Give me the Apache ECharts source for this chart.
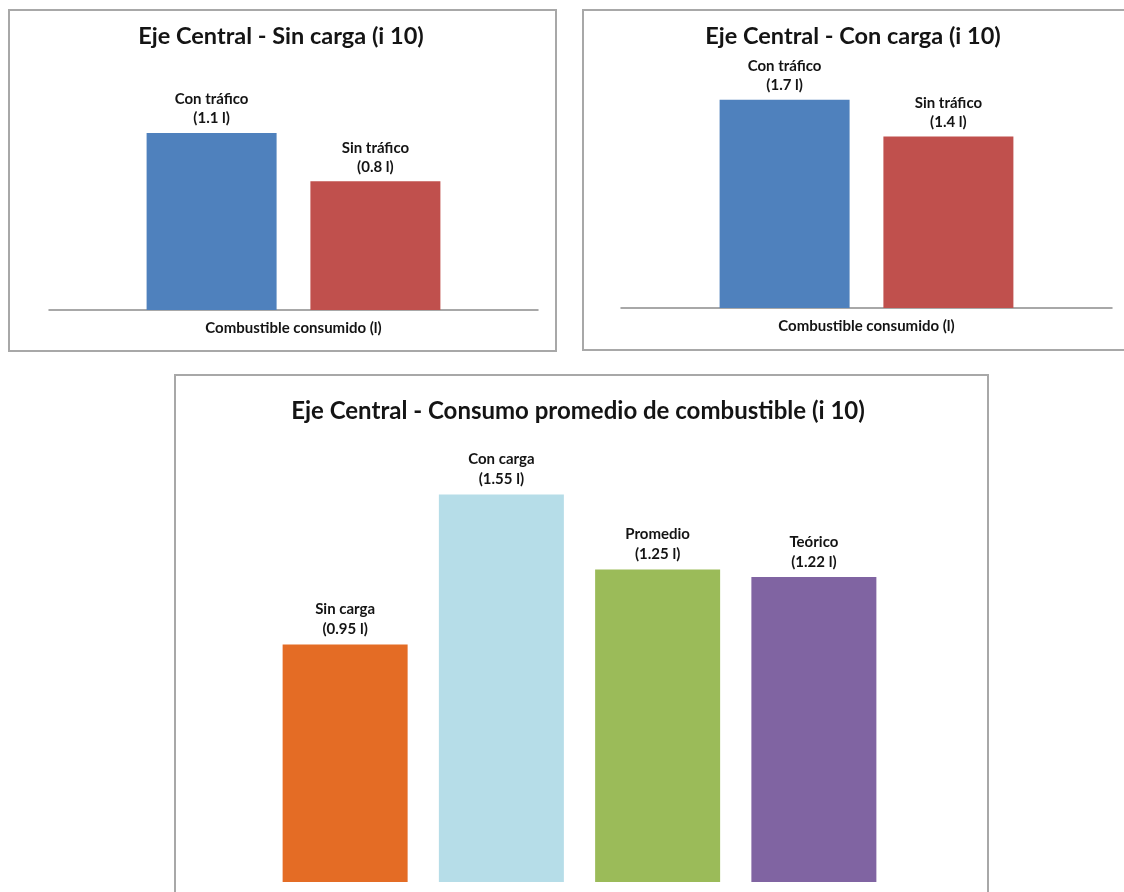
<!DOCTYPE html>
<html>
<head>
<meta charset="utf-8">
<script src="https://cdn.jsdelivr.net/npm/echarts@6/dist/echarts.min.js"></script>
<style>
    html, body { margin: 0; padding: 0; background: #fff; overflow: hidden; }
    #main { width: 1124px; height: 892px; }
</style>
</head>
<body>
<div id="main"></div>
<script>
// data
var sinCargaNames = ['Con tráfico', 'Sin tráfico'];
var sinCargaValues = [1.1, 0.8];
var conCargaNames = ['Con tráfico', 'Sin tráfico'];
var conCargaValues = [1.7, 1.4];
var promedioCats = ['Sin carga', 'Con carga', 'Promedio', 'Teórico'];
var promedioValues = [0.95, 1.55, 1.25, 1.22];
var axisCategory = ['Combustible consumido (l)'];

var titles = [
    'Eje Central - Sin carga (i 10)',
    'Eje Central - Con carga (i 10)',
    'Eje Central - Consumo promedio de combustible (i 10)'
];

var pairColors = ['#4f81bd', '#c0504d'];
var promedioColors = ['#e46c25', '#b6dde8', '#9bbb59', '#8064a2'];

var FONT = 'Lato, "Liberation Sans", sans-serif';
var TXT = '#141414';

var chart = echarts.init(document.getElementById('main'));

function labelFmt(p) {
    return p.seriesName + '\n(' + p.value + ' l)';
}

function pairSeries(names, values, idx) {
    return names.map(function (n, i) {
        return {
            type: 'bar',
            name: n,
            xAxisIndex: idx,
            yAxisIndex: idx,
            data: [values[i]],
            barWidth: 130,
            barGap: '26%',
            itemStyle: { color: pairColors[i] },
            label: {
                show: true,
                position: 'top',
                distance: 5,
                formatter: labelFmt,
                fontFamily: FONT,
                fontWeight: 'bold',
                fontSize: 15,
                lineHeight: 19,
                color: TXT
            },
            silent: true,
            animation: false
        };
    });
}

function borderRect(x, y, w, h) {
    return {
        type: 'rect',
        shape: { x: x, y: y, width: w, height: h },
        style: { fill: 'none', stroke: '#a8a8a8', lineWidth: 2 },
        silent: true
    };
}

var catAxisBase = {
    type: 'category',
    axisTick: { show: false },
    axisLine: { show: true, lineStyle: { color: '#8c8c8c', width: 1.5 } },
    axisLabel: {
        fontFamily: FONT, fontWeight: 'bold', fontSize: 15, color: TXT, margin: 11
    }
};

var valAxisBase = {
    type: 'value',
    min: 0,
    show: false,
    splitLine: { show: false }
};

function titleOpt(text, x, y, size) {
    return {
        text: text, left: x, top: y,
        textAlign: 'center',
        padding: 0,
        textStyle: { fontFamily: FONT, fontWeight: 'bold', fontSize: size, color: TXT }
    };
}

var series = []
    .concat(pairSeries(sinCargaNames, sinCargaValues, 0))
    .concat(pairSeries(conCargaNames, conCargaValues, 1));

series.push({
    type: 'bar',
    xAxisIndex: 2,
    yAxisIndex: 2,
    barWidth: 125,
    data: promedioValues.map(function (v, i) {
        return { value: v, itemStyle: { color: promedioColors[i] } };
    }),
    label: {
        show: true,
        position: 'top',
        distance: 5,
        formatter: function (p) { return p.name + '\n(' + p.value + ' l)'; },
        fontFamily: FONT,
        fontWeight: 'bold',
        fontSize: 15,
        lineHeight: 20,
        color: TXT
    },
    silent: true,
    animation: false
});

chart.setOption({
    animation: false,
    backgroundColor: '#fff',
    title: [
        titleOpt(titles[0], 281, 24, 23.5),
        titleOpt(titles[1], 853, 24, 23.5),
        titleOpt(titles[2], 578, 399, 24)
    ],
    grid: [
        { left: 49, top: 117, width: 489, height: 193 },
        { left: 621, top: 63, width: 491, height: 245 },
        { left: 267, top: 432, width: 625, height: 450 }
    ],
    xAxis: [
        Object.assign({ gridIndex: 0, data: axisCategory }, catAxisBase),
        Object.assign({ gridIndex: 1, data: axisCategory }, catAxisBase),
        { type: 'category', gridIndex: 2, data: promedioCats,
          axisLine: { show: false }, axisTick: { show: false }, axisLabel: { show: false } }
    ],
    yAxis: [
        Object.assign({ gridIndex: 0, max: 1.2 }, valAxisBase),
        Object.assign({ gridIndex: 1, max: 2 }, valAxisBase),
        Object.assign({ gridIndex: 2, max: 1.8 }, valAxisBase)
    ],
    series: series,
    graphic: [
        borderRect(9, 10, 547, 341),
        borderRect(583, 10, 545, 340),
        borderRect(175, 375, 813, 540)
    ]
});
</script>
</body>
</html>
